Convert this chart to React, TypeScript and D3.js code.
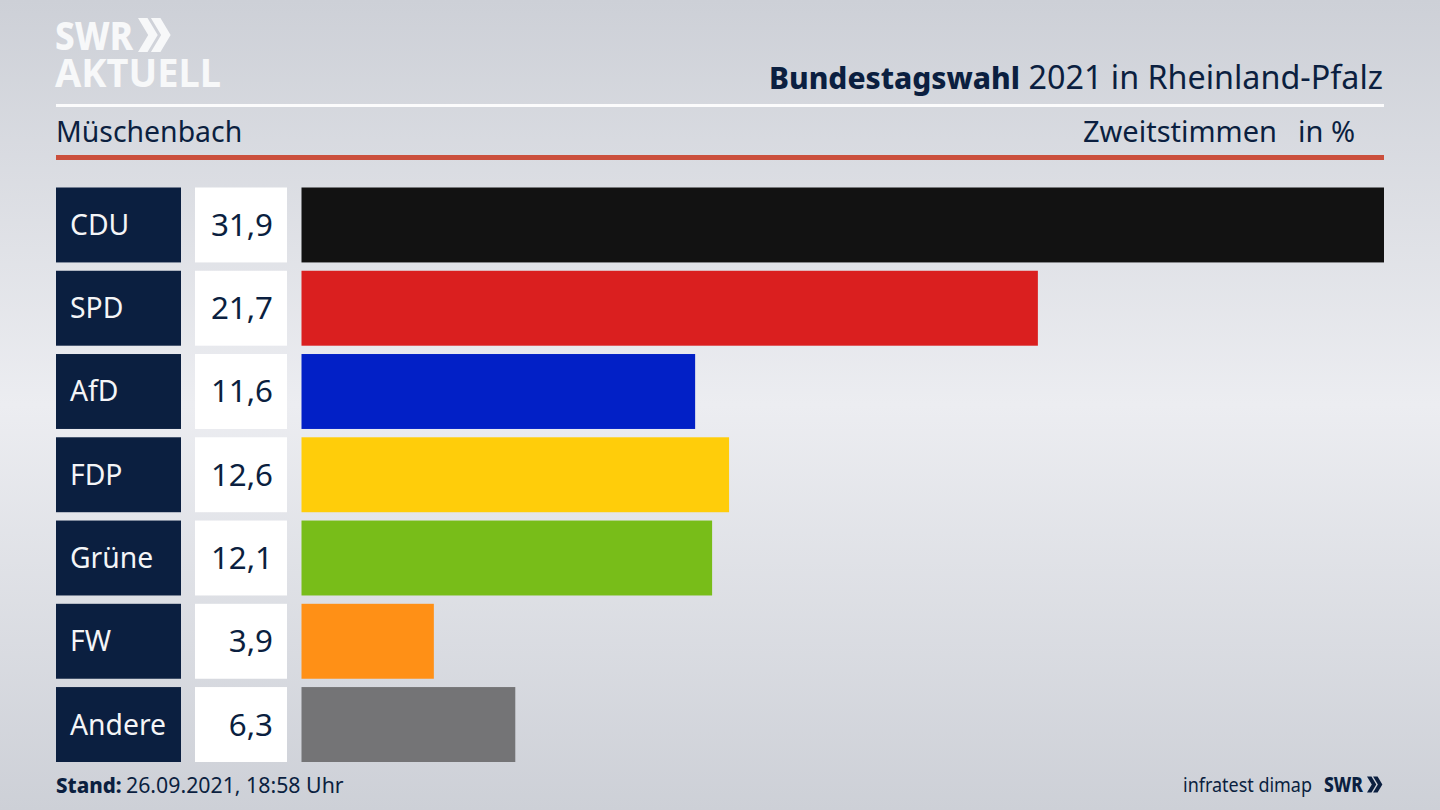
import React from 'react';
import * as d3 from 'd3';

const parties = ['CDU', 'SPD', 'AfD', 'FDP', 'Grüne', 'FW', 'Andere'];
const shares = [31.9, 21.7, 11.6, 12.6, 12.1, 3.9, 6.3];
const partyColors = ['#121212', '#da1f1f', '#0220c6', '#ffcd0a', '#78bd19', '#ff9016', '#747476'];

const navy = '#0b1f40';
const font = '"Noto Sans", sans-serif';

const width = 1440;
const height = 810;

// Two small chevrons next to the SWR wordmark
const Chevrons = ({ x, y, h, fill }: { x: number; y: number; h: number; fill: string }) => {
  const w = h * 0.3;
  const t = h * 0.28;
  const one = (dx: number) =>
    d3.line()([
      [x + dx, y],
      [x + dx + t, y],
      [x + dx + t + w, y + h / 2],
      [x + dx + t, y + h],
      [x + dx, y + h],
      [x + dx + w, y + h / 2],
    ]) + 'Z';
  return (
    <g fill={fill}>
      <path d={one(0)} />
      <path d={one(h * 0.38)} />
    </g>
  );
};

const App: React.FC = () => {
  const x = d3.scaleLinear().domain([0, 31.9]).range([301.5, 1384]);
  const y = d3.scaleBand<string>().domain(parties).range([187.5, 762]).paddingInner(0.1);
  const fmt = (v: number) => v.toFixed(1).replace('.', ',');

  return (
    <svg
      width={width}
      height={height}
      viewBox={`0 0 ${width} ${height}`}
      style={{ position: 'absolute', left: 0, top: 0, display: 'block' }}
      fontFamily={font}
    >
      <defs>
        <linearGradient id="bg" x1="0" y1="0" x2="0" y2="1">
          <stop offset="0" stopColor="#cdd0d7" />
          <stop offset="0.5" stopColor="#ecedf1" />
          <stop offset="1" stopColor="#cdd0d7" />
        </linearGradient>
      </defs>
      <rect width={width} height={height} fill="url(#bg)" />

      {/* logo */}
      <text x={55} y={50} fontSize={40} fontWeight={800} fill="#f7f8f9" textLength={78} lengthAdjust="spacingAndGlyphs">SWR</text>
      <Chevrons x={138} y={18} h={34} fill="#f7f8f9" />
      <text x={55} y={87} fontSize={40} fontWeight={700} fill="#f7f8f9" textLength={166} lengthAdjust="spacingAndGlyphs">AKTUELL</text>

      {/* header */}
      <text x={769} y={89} fontSize={30} fontWeight={800} fill={navy} textLength={251} lengthAdjust="spacingAndGlyphs">Bundestagswahl</text>
      <text x={1383} y={89} textAnchor="end" fontSize={32.3} fill={navy}>2021 in Rheinland-Pfalz</text>
      <rect x={56} y={104} width={1328} height={3} fill="#fbfbfc" />
      <text x={56} y={142} fontSize={28.4} fill={navy}>Müschenbach</text>
      <text x={1277} y={142} textAnchor="end" fontSize={29} fill={navy}>Zweitstimmen</text>
      <text x={1355} y={142} textAnchor="end" fontSize={29} fill={navy}>in %</text>
      <rect x={56} y={155} width={1328} height={5} fill="#cb4f3c" />

      {/* rows */}
      {parties.map((p, i) => {
        const top = y(p)!;
        const h = y.bandwidth();
        const mid = top + h / 2;
        return (
          <g key={p}>
            <rect x={56} y={top} width={125} height={h} fill={navy} />
            <text x={70} y={mid + 10} fontSize={28.3} fill="#f4f5f7">{p}</text>
            <rect x={195} y={top} width={92} height={h} fill="#ffffff" />
            <text x={273} y={mid + 11} textAnchor="end" fontSize={31.3} fill={navy}>{fmt(shares[i])}</text>
            <rect x={x(0)} y={top} width={x(shares[i]) - x(0)} height={h} fill={partyColors[i]} />
          </g>
        );
      })}

      {/* footer */}
      <text x={56} y={793} fontSize={20.5} fontWeight={800} fill={navy}>Stand:</text>
      <text x={126} y={793} fontSize={21.3} fill={navy}>26.09.2021, 18:58 Uhr</text>
      <text x={1183} y={792} fontSize={19.5} fill={navy} textLength={129} lengthAdjust="spacingAndGlyphs">infratest dimap</text>
      <text x={1324} y={792} fontSize={21} fontWeight={800} fill={navy} textLength={39} lengthAdjust="spacingAndGlyphs">SWR</text>
      <Chevrons x={1367} y={776.5} h={16} fill={navy} />
    </svg>
  );
};

export default App;
